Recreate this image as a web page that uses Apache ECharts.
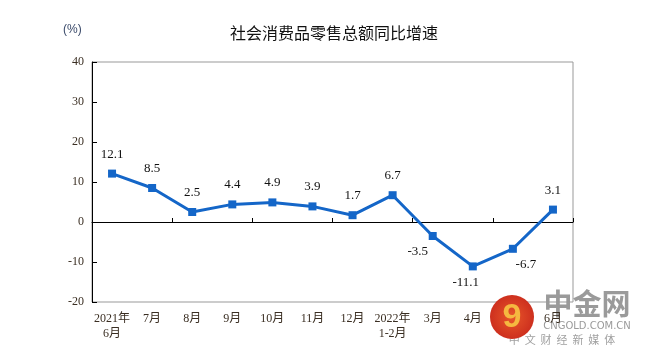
<!DOCTYPE html>
<html>
<head>
<meta charset="utf-8">
<script src="https://cdn.jsdelivr.net/npm/echarts@6/dist/echarts.min.js"></script>
<style>html,body{margin:0;padding:0;background:#fff}#c{width:647px;height:358px}</style>
</head>
<body>
<div id="c"></div>
<script>
const categories = ['2021年\n6月','7月','8月','9月','10月','11月','12月','2022年\n1-2月','3月','4月','5月','6月'];
const growth = [12.1, 8.5, 2.5, 4.4, 4.9, 3.9, 1.7, 6.7, -3.5, -11.1, -6.7, 3.1];
const yTicks = [-20, -10, 0, 10, 20, 30, 40];

const serif = '"Liberation Serif","Times New Roman","Noto Sans CJK SC",serif';
const labelTweaks = {8: {position: 'bottom', offset: [-15, 0]}, 9: {position: 'bottom', offset: [-7, 1]}, 10: {position: 'bottom', offset: [13, 0]}};
const seriesData = growth.map((v, i) => {
  const t = labelTweaks[i];
  return t ? {value: v, label: {position: t.position, offset: t.offset, distance: 5}} : {value: v};
});

const chart = echarts.init(document.getElementById('c'), null, {renderer: 'canvas'});
chart.setOption({
  animation: false,
  title: {
    text: '社会消费品零售总额同比增速',
    left: 329, top: 20, textAlign: 'center',
    textStyle: {fontSize: 16, fontWeight: 'normal', color: '#111', fontFamily: '"Noto Sans CJK SC",sans-serif'}
  },
  graphic: [
    {type: 'text', left: 63, top: 24, style: {text: '(%)', fontSize: 12, fill: '#3a4a6a', font: '12px "Noto Sans CJK SC",sans-serif'}},
    {type: 'circle', shape: {cx: 512, cy: 317, r: 22}, z: 100, style: {fill: new echarts.graphic.RadialGradient(0.5, 0.5, 0.6, [{offset: 0, color: '#e8562a'}, {offset: 1, color: '#c8281c'}])}},
    {type: 'text', z: 101, style: {x: 512, y: 318, text: '9', fontSize: 34, fontWeight: 'bold', fill: '#f5b840', align: 'center', verticalAlign: 'middle', font: 'bold 34px "DejaVu Sans",sans-serif'}},
    {type: 'text', z: -1, style: {x: 587, y: 304, text: '中金网', align: 'center', verticalAlign: 'middle', fill: '#9a9a9a', font: 'bold 29px "Noto Sans CJK SC",sans-serif'}},
    {type: 'text', z: -1, style: {x: 587, y: 326, text: 'CNGOLD.COM.CN', align: 'center', verticalAlign: 'middle', fill: '#9a9a9a', font: '10px "DejaVu Sans",sans-serif'}},
    {type: 'text', z: -1, style: {x: 562, y: 340, text: '中  文  财  经  新  媒  体', align: 'center', verticalAlign: 'middle', fill: '#a0a0a0', font: '11px "Noto Sans CJK SC",sans-serif'}}
  ],
  grid: {left: 92, right: 74, top: 62, bottom: 56, show: true, borderColor: '#999', borderWidth: 1},
  xAxis: [
    {
      type: 'category', data: categories, boundaryGap: true, position: 'bottom',
      axisLine: {show: false, onZero: false}, axisTick: {show: false},
      axisLabel: {color: '#3a2e22', fontSize: 12, lineHeight: 15, margin: 9, fontFamily: serif, interval: 0}
    },
    {
      type: 'category', data: categories, boundaryGap: true, position: 'bottom',
      axisLine: {show: true, onZero: true, lineStyle: {color: '#000', width: 1}},
      axisTick: {show: true, inside: true, length: 4, lineStyle: {color: '#000'}},
      axisLabel: {show: false}
    }
  ],
  yAxis: {
    type: 'value', min: yTicks[0], max: yTicks[yTicks.length - 1], interval: 10,
    axisLine: {show: true, lineStyle: {color: '#000', width: 1}},
    axisTick: {show: true, inside: true, length: 5, lineStyle: {color: '#000'}},
    splitLine: {show: false},
    axisLabel: {color: '#3a2e22', fontSize: 12, margin: 8, fontFamily: serif}
  },
  series: [{
    type: 'line', xAxisIndex: 0, data: seriesData,
    symbol: 'rect', symbolSize: 8,
    lineStyle: {color: '#1466c8', width: 3},
    itemStyle: {color: '#1466c8'},
    label: {show: true, position: 'top', distance: 9, color: '#111', fontSize: 13, fontFamily: serif}
  }]
});
</script>
</body>
</html>
